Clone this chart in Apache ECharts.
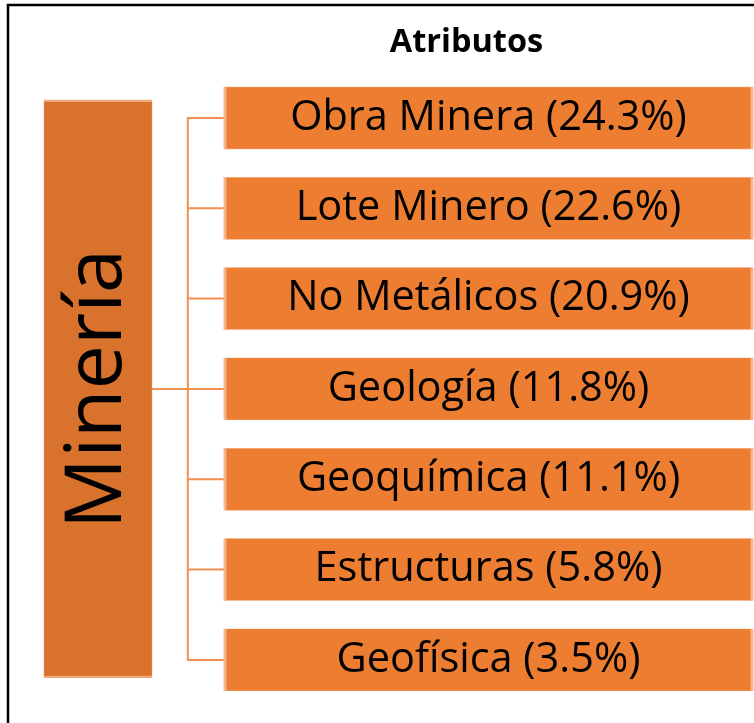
<!DOCTYPE html>
<html>
<head>
<meta charset="utf-8">
<script src="https://cdn.jsdelivr.net/npm/echarts@6/dist/echarts.min.js"></script>
<style>
  html, body { margin: 0; padding: 0; background: #fff; }
  #chart { width: 754px; height: 723px; }
</style>
</head>
<body>
<div id="chart"></div>
<script>
var rootName = 'Minería';
var groupTitle = 'Atributos';
var attributes = ['Obra Minera', 'Lote Minero', 'No Metálicos', 'Geología', 'Geoquímica', 'Estructuras', 'Geofísica'];
var shares = [24.3, 22.6, 20.9, 11.8, 11.1, 5.8, 3.5];

var fontFamily = '"Open Sans", sans-serif';

var children = attributes.map(function (name, i) {
    return { name: name, value: shares[i] };
});

var option = {
    backgroundColor: '#fff',
    animation: false,
    graphic: [{
        type: 'rect',
        shape: { x: 8, y: 5, width: 800, height: 800 },
        style: { fill: 'none', stroke: '#000', lineWidth: 2.5 },
        silent: true
    }, {
        type: 'text',
        x: 466.5,
        y: 43,
        style: {
            text: groupTitle,
            fill: '#000',
            font: 'bold 32.5px ' + fontFamily,
            textAlign: 'center',
            textVerticalAlign: 'middle'
        }
    }],
    series: [{
        type: 'tree',
        orient: 'LR',
        layout: 'orthogonal',
        left: 98,
        right: 265.5,
        top: 72.8,
        bottom: 17.9,
        roam: false,
        expandAndCollapse: false,
        edgeShape: 'polyline',
        edgeForkPosition: '23%',
        symbol: 'rect',
        // root is the tall box, the attributes are wide boxes
        symbolSize: function (value, params) {
            return params.data.children ? [108, 576] : [527, 62];
        },
        itemStyle: {
            color: '#d8722d',
            borderColor: '#f2a877',
            borderWidth: 1
        },
        lineStyle: {
            color: '#f28f52',
            width: 2,
            curveness: 0
        },
        label: {
            show: true,
            position: 'inside',
            rotate: 90,
            color: '#000',
            fontFamily: fontFamily,
            fontSize: 79
        },
        leaves: {
            itemStyle: {
                color: '#ed7d31',
                borderColor: '#f6b58a',
                borderWidth: 1
            },
            label: {
                position: 'inside',
                rotate: 0,
                fontSize: 41.5,
                formatter: function (p) {
                    return p.name + ' (' + p.value + '%)';
                }
            }
        },
        emphasis: { disabled: true },
        data: [{ name: rootName, children: children }]
    }]
};

var chart = echarts.init(document.getElementById('chart'));
chart.setOption(option);
</script>
</body>
</html>
